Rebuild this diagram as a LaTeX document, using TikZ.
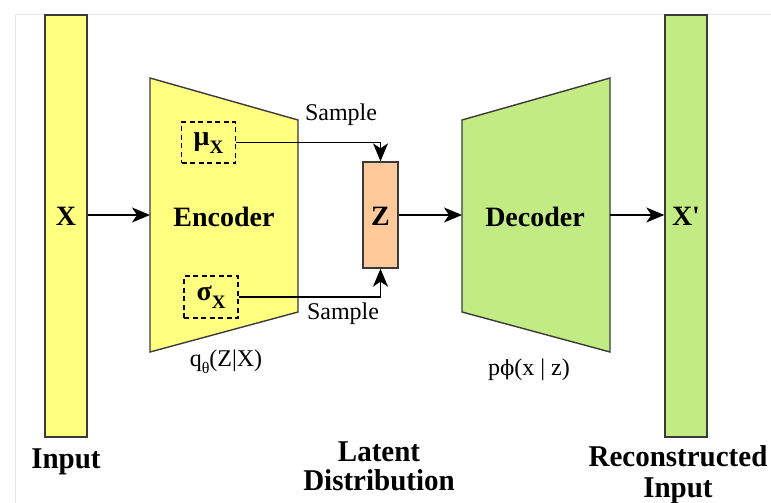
\documentclass[tikz,border=0pt]{standalone}
\usepackage{fontspec}
\usepackage{graphicx}
\setmainfont{Liberation Serif}
\newfontfamily\rawser{Liberation Serif}
\newfontfamily\dvs{DejaVu Serif}
\usetikzlibrary{arrows.meta}
\definecolor{inyel}{HTML}{FFFF80}
\definecolor{outgrn}{HTML}{C2EB84}
\definecolor{zorg}{HTML}{FFC999}
\definecolor{edgec}{HTML}{3A3A3A}
\definecolor{framec}{HTML}{E4E4E4}
\tikzset{
  bar/.style={draw=edgec, line width=1.4pt, minimum width=42pt, minimum height=422pt, inner sep=0pt},
  big/.style={font=\fontsize{28}{30}\selectfont\bfseries, inner sep=0pt},
  lbl/.style={font=\fontsize{29}{31}\selectfont\bfseries, anchor=base, inner sep=0pt},
  small/.style={font=\fontsize{24}{26}\selectfont, anchor=base, inner sep=0pt},
  dbox/.style={draw=black, line width=1.3pt, dash pattern=on 5pt off 3.5pt, inner sep=0pt},
  arr/.style={-{Stealth[length=18pt,width=15pt,inset=5pt]}, line width=1.5pt},
}
\newcommand{\vstr}[1]{\scalebox{1}[1.04]{#1}}
\begin{document}
\begin{tikzpicture}[x=1pt,y=-1pt]
\useasboundingbox (0,0) rectangle (771,503);
% frame
\draw[framec, line width=1pt] (15,503) -- (15,14.5) -- (771,14.5);
% bars
\node[bar, fill=inyel] (inbar) at (66,226) {};
\node[bar, fill=outgrn] (outbar) at (686,226) {};
\node[big] (xin) at (66,216.5) {X};
\node[big] (xout) at (686,216.5) {X{\rawser\bfseries '}};
% encoder
\draw[draw=edgec, line width=1.4pt, fill=inyel] (150,78) -- (298,120) -- (298,312) -- (150,352) -- cycle;
\coordinate (encL) at (150,215);
\coordinate (encR) at (298,215);
\node[big] (enc) at (224,216.5) {Encoder};
% decoder
\draw[draw=edgec, line width=1.4pt, fill=outgrn] (462,120) -- (610,78) -- (610,352) -- (462,312) -- cycle;
\coordinate (decL) at (462,215);
\coordinate (decR) at (610,215);
\node[big] (dec) at (535,216.5) {Decoder};
% z
\node[draw=edgec, line width=1.4pt, fill=zorg, minimum width=35pt, minimum height=106pt, inner sep=0pt] (z) at (380.5,215) {};
\node[big] (zt) at (380.5,216.5) {Z};
% mu sigma
\node[dbox, minimum width=54pt, minimum height=41pt] (mu) at (208.5,142.5) {};
\node[font=\fontsize{28}{30}\selectfont\bfseries] (mut) at (208.5,143) {μ\raisebox{-0.3em}{\fontsize{19}{19}\selectfont X}};
\node[dbox, minimum width=54pt, minimum height=42pt] (sig) at (211,297) {};
\node[font=\fontsize{28}{30}\selectfont\bfseries] (sigt) at (211,297) {σ\raisebox{-0.3em}{\fontsize{19}{19}\selectfont X}};
% connectors
\draw[arr] (inbar.east |- encL) -- (encL);
\draw[arr] (z.east) -- (decL);
\draw[arr] (decR) -- (outbar.west |- decR);
\draw[arr] (mu.east) -| (z.north);
\draw[arr] (sig.east) -| (z.south);
% labels
\node[small] (s1) at (341,120) {Sample};
\node[small] (s2) at (343,319) {Sample};
\node[small] (q) at (226,366) {q\raisebox{-0.3em}{\fontsize{16}{16}\selectfont θ}(Z|X)};
\node[small] (p) at (529,375) {p{\dvs\fontsize{21}{21}\selectfont ϕ}(x | z)};
\node[lbl] (linput) at (66,468) {\vstr{Input}};
\node[lbl] (llat1) at (379,461) {\vstr{Latent}};
\node[lbl] (llat2) at (379,490) {\vstr{Distribution}};
\node[lbl] (lrec1) at (678,466) {\vstr{Reconstructed}};
\node[lbl] (lrec2) at (678,497) {\vstr{Input}};
\end{tikzpicture}
\end{document}
